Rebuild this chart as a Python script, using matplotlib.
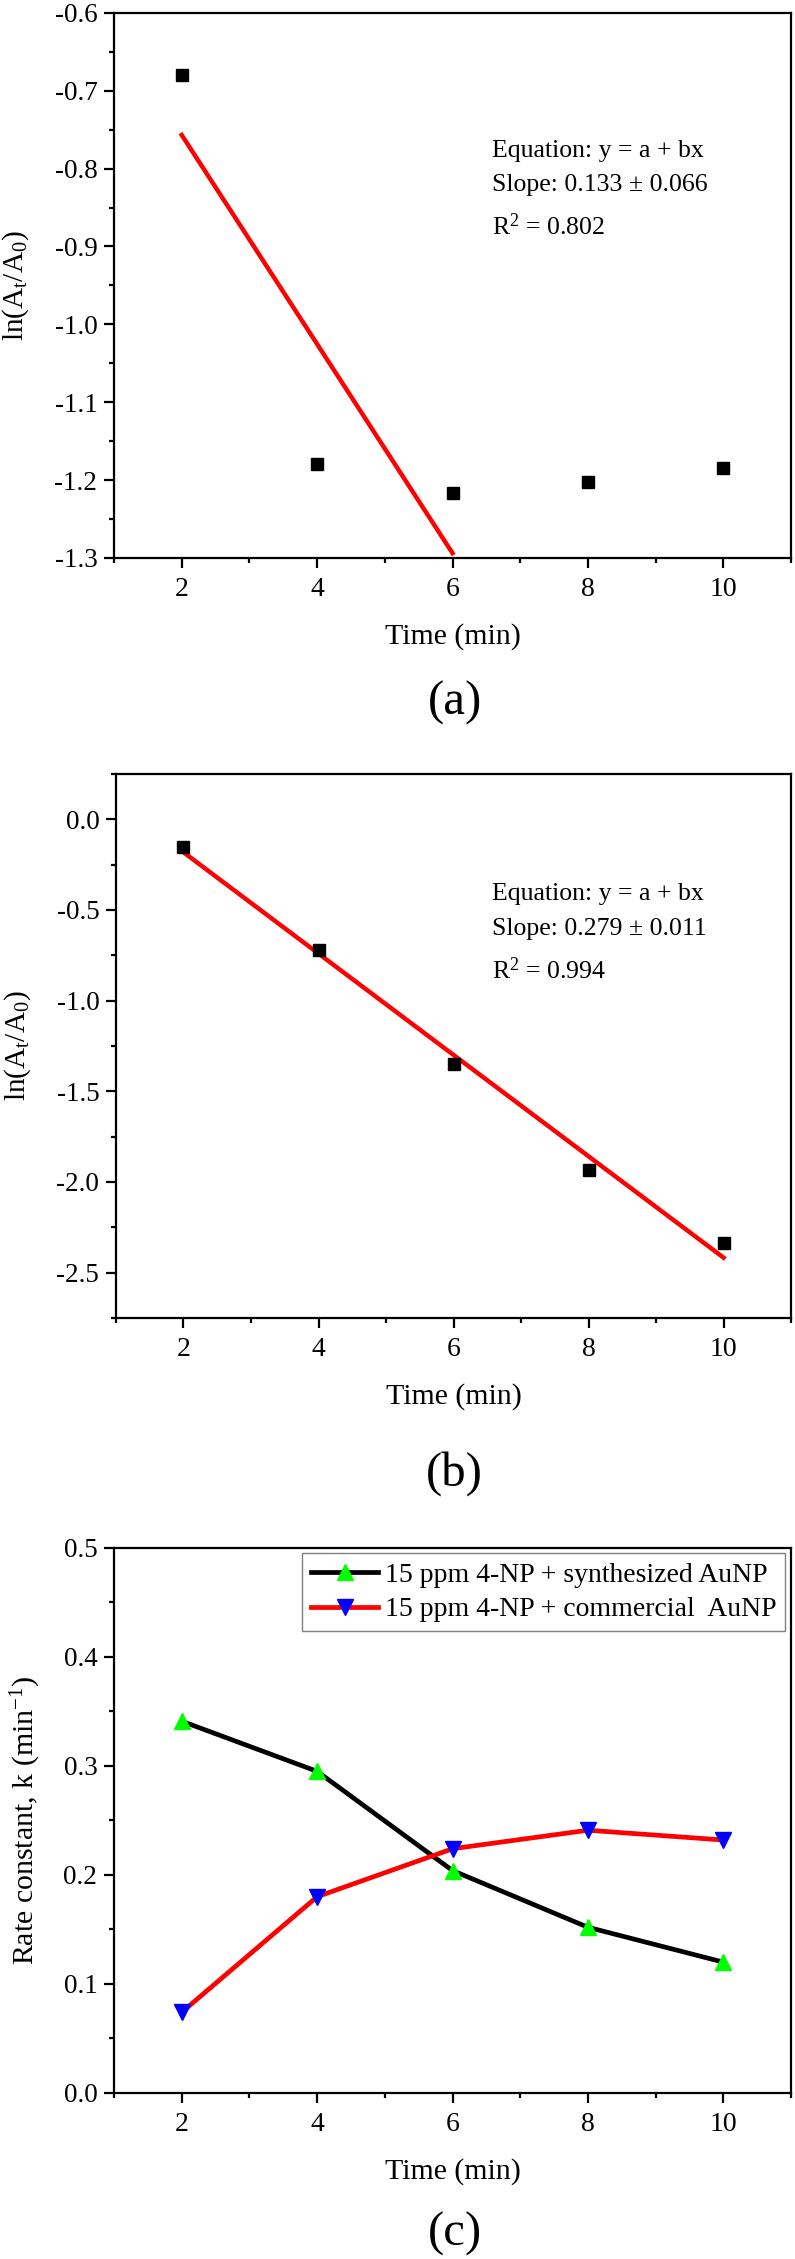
# Import Libraries
import numpy as np
import matplotlib
matplotlib.use('Agg')
import matplotlib.pyplot as plt

# Data
time = [2, 4, 6, 8, 10]
ln_a = [-0.680, -1.179, -1.217, -1.203, -1.185]
ln_b = [-0.152, -0.722, -1.349, -1.937, -2.339]
k_synth = [0.341, 0.295, 0.204, 0.152, 0.120]
k_comm = [0.074, 0.180, 0.224, 0.241, 0.232]
legend_labels = ['15 ppm 4-NP + synthesized AuNP', '15 ppm 4-NP + commercial  AuNP']
fit_text_a = ['Equation: y = a + bx', 'Slope: 0.133 \u00b1 0.066', 'R$^2$ = 0.802']
fit_text_b = ['Equation: y = a + bx', 'Slope: 0.279 \u00b1 0.011', 'R$^2$ = 0.994']

# Style
plt.rcParams['font.family'] = ['Liberation Serif', 'DejaVu Serif']
plt.rcParams['mathtext.default'] = 'regular'
plt.rcParams['axes.linewidth'] = 1.6
plt.rcParams['xtick.labelsize'] = 20
plt.rcParams['ytick.labelsize'] = 19.5

fig = plt.figure(figsize=(7.95, 22.59), dpi=100)
ax1 = fig.add_axes([0.1434, 0.7530, 0.8516, 0.2413])
ax2 = fig.add_axes([0.1459, 0.4166, 0.8491, 0.2408])
ax3 = fig.add_axes([0.1434, 0.0735, 0.8516, 0.2413])


def style_axes(ax):
    ax.set_xlim(1, 11)
    ax.set_xticks([2, 4, 6, 8, 10])
    ax.set_xticks([1, 3, 5, 7, 9, 11], minor=True)
    ax.tick_params(which='both', direction='out', width=1.6, top=False, right=False)
    ax.tick_params(which='major', length=7)
    ax.tick_params(which='minor', length=3.5)
    ax.tick_params(axis='x', which='major', pad=7)
    ax.tick_params(axis='y', which='major', pad=5)
    ax.set_xlabel('Time (min)', fontsize=21.5, labelpad=15)


# Panel (a)
x = np.array(time)
pa = np.polyfit(x[:3], ln_a[:3], 1)
ax1.plot(x[:3], np.polyval(pa, x[:3]), color='red', lw=3.2, zorder=2)
ax1.plot(time, ln_a, 's', color='black', ms=8, zorder=3)
ax1.set_ylim(-1.3, -0.6)
ax1.set_yticks(np.arange(-1.3, -0.55, 0.1))
ax1.set_yticks(np.arange(-1.25, -0.6, 0.1), minor=True)
ax1.yaxis.set_major_formatter(matplotlib.ticker.FormatStrFormatter('%.1f'))
ax1.set_ylabel(r'ln(A$_t$/A$_0$)', fontsize=21, labelpad=17)
style_axes(ax1)
for t, yy in zip(fit_text_a, [0.736, 0.673, 0.593]):
    ax1.text(0.558, yy, t, transform=ax1.transAxes, fontsize=18.5, va='baseline')

# Panel (b)
pb = np.polyfit(x, ln_b, 1)
ax2.plot(x, np.polyval(pb, x), color='red', lw=3.2, zorder=2)
ax2.plot(time, ln_b, 's', color='black', ms=8, zorder=3)
ax2.set_ylim(-2.75, 0.25)
ax2.set_yticks([-2.5, -2.0, -1.5, -1.0, -0.5, 0.0])
ax2.set_yticks([-2.75, -2.25, -1.75, -1.25, -0.75, -0.25, 0.25], minor=True)
ax2.yaxis.set_major_formatter(matplotlib.ticker.FormatStrFormatter('%.1f'))
ax2.set_ylabel(r'ln(A$_t$/A$_0$)', fontsize=21, labelpad=17)
style_axes(ax2)
for t, yy in zip(fit_text_b, [0.768, 0.704, 0.623]):
    ax2.text(0.557, yy, t, transform=ax2.transAxes, fontsize=18.5, va='baseline')

# Panel (c)
ax3.plot(time, k_synth, '-', color='black', lw=3.4, marker='^', ms=12,
         mfc='#00ff00', mec='#00ff00', label=legend_labels[0])
ax3.plot(time, k_comm, '-', color='red', lw=3.4, marker='v', ms=12,
         mfc='#0000ff', mec='#0000ff', label=legend_labels[1])
ax3.set_ylim(0, 0.5)
ax3.set_yticks([0.0, 0.1, 0.2, 0.3, 0.4, 0.5])
ax3.set_yticks([0.05, 0.15, 0.25, 0.35, 0.45], minor=True)
ax3.yaxis.set_major_formatter(matplotlib.ticker.FormatStrFormatter('%.1f'))
ax3.set_ylabel(r'Rate constant, k (min$^{-1}$)', fontsize=21.5, labelpad=15)
style_axes(ax3)
leg = ax3.legend(loc='upper right', fontsize=20, fancybox=False, framealpha=1,
                 edgecolor='gray', borderpad=0.32, labelspacing=0.33,
                 handlelength=2.4, handletextpad=0.25, borderaxespad=0.2)
leg.get_frame().set_linewidth(1.0)

# Panel letters
fig.text(0.572, 1 - 703 / 2259, '(a)', fontsize=35, ha='center', va='center')
fig.text(0.572, 1 - 1474 / 2259, '(b)', fontsize=35, ha='center', va='center')
fig.text(0.572, 1 - 2234 / 2259, '(c)', fontsize=35, ha='center', va='center')

plt.savefig('out.png', dpi=100)
